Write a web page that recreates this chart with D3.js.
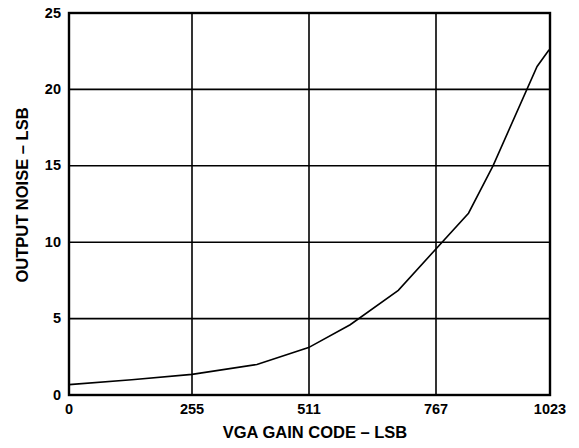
<!DOCTYPE html>
<html>
<head>
<meta charset="utf-8">
<script src="https://cdn.jsdelivr.net/npm/d3@7"></script>
<style>
  body { margin: 0; background: #fff; }
  text { font-family: "Liberation Sans", Arial, sans-serif; font-weight: bold; fill: #000; }
</style>
</head>
<body>
<div class="chart"></div>
<script>
// gain code vs output noise
var gainCode = [0, 130, 255, 397, 510, 594, 691, 840, 895, 994, 1021];
var noiseLsb = [0.68, 1.0, 1.35, 2.0, 3.1, 4.6, 6.85, 11.9, 15.0, 21.5, 22.6];

var xTicks = [0, 255, 511, 767, 1023];
var yTicks = [0, 5, 10, 15, 20, 25];

var width = 579,
    height = 448,
    plotLeft = 69,
    plotTop = 13,
    plotRight = 550,
    plotBottom = 395;

var svg = d3.select('.chart').append('svg')
  .attr('width', width)
  .attr('height', height);

// grid columns in the scan are not quite evenly spaced
var x = d3.scaleLinear()
  .domain(xTicks)
  .range([plotLeft, 192, 309, 436, plotRight]);
var y = d3.scaleLinear()
  .domain([0, 25])
  .range([plotBottom, plotTop]);

var grid = svg.append('g').attr('class', 'grid');
grid.selectAll('.vline')
  .data(xTicks.slice(1, -1))
  .enter().append('line')
  .attr('x1', x).attr('x2', x)
  .attr('y1', plotTop).attr('y2', plotBottom)
  .attr('stroke', '#000')
  .attr('stroke-width', 1.6);
grid.selectAll('.hline')
  .data(yTicks.slice(1, -1))
  .enter().append('line')
  .attr('x1', plotLeft).attr('x2', plotRight)
  .attr('y1', y).attr('y2', y)
  .attr('stroke', '#000')
  .attr('stroke-width', 1.6);

var line = d3.line()
  .x(function(d) { return x(d[0]); })
  .y(function(d) { return y(d[1]); });

svg.append('path')
  .datum(d3.zip(gainCode, noiseLsb))
  .attr('d', line)
  .attr('fill', 'none')
  .attr('stroke', '#000')
  .attr('stroke-width', 1.6);

svg.append('rect')
  .attr('x', plotLeft).attr('y', plotTop)
  .attr('width', plotRight - plotLeft).attr('height', plotBottom - plotTop)
  .attr('fill', 'none')
  .attr('stroke', '#000')
  .attr('stroke-width', 2.4);

// tick labels
svg.append('g').selectAll('text')
  .data(xTicks)
  .enter().append('text')
  .attr('x', x)
  .attr('y', 413.5)
  .attr('text-anchor', 'middle')
  .style('font-size', '14.5px')
  .text(function(d) { return d; });

svg.append('g').selectAll('text')
  .data(yTicks)
  .enter().append('text')
  .attr('x', 61)
  .attr('y', function(d) { return y(d) + 4.5; })
  .attr('text-anchor', 'end')
  .style('font-size', '14.5px')
  .text(function(d) { return d; });

// axis titles
svg.append('text')
  .attr('x', 315)
  .attr('y', 438)
  .attr('text-anchor', 'middle')
  .style('font-size', '16.5px')
  .text('VGA GAIN CODE – LSB');

svg.append('text')
  .attr('transform', 'translate(28,195) rotate(-90)')
  .attr('text-anchor', 'middle')
  .style('font-size', '16.5px')
  .text('OUTPUT NOISE – LSB');
</script>
</body>
</html>
